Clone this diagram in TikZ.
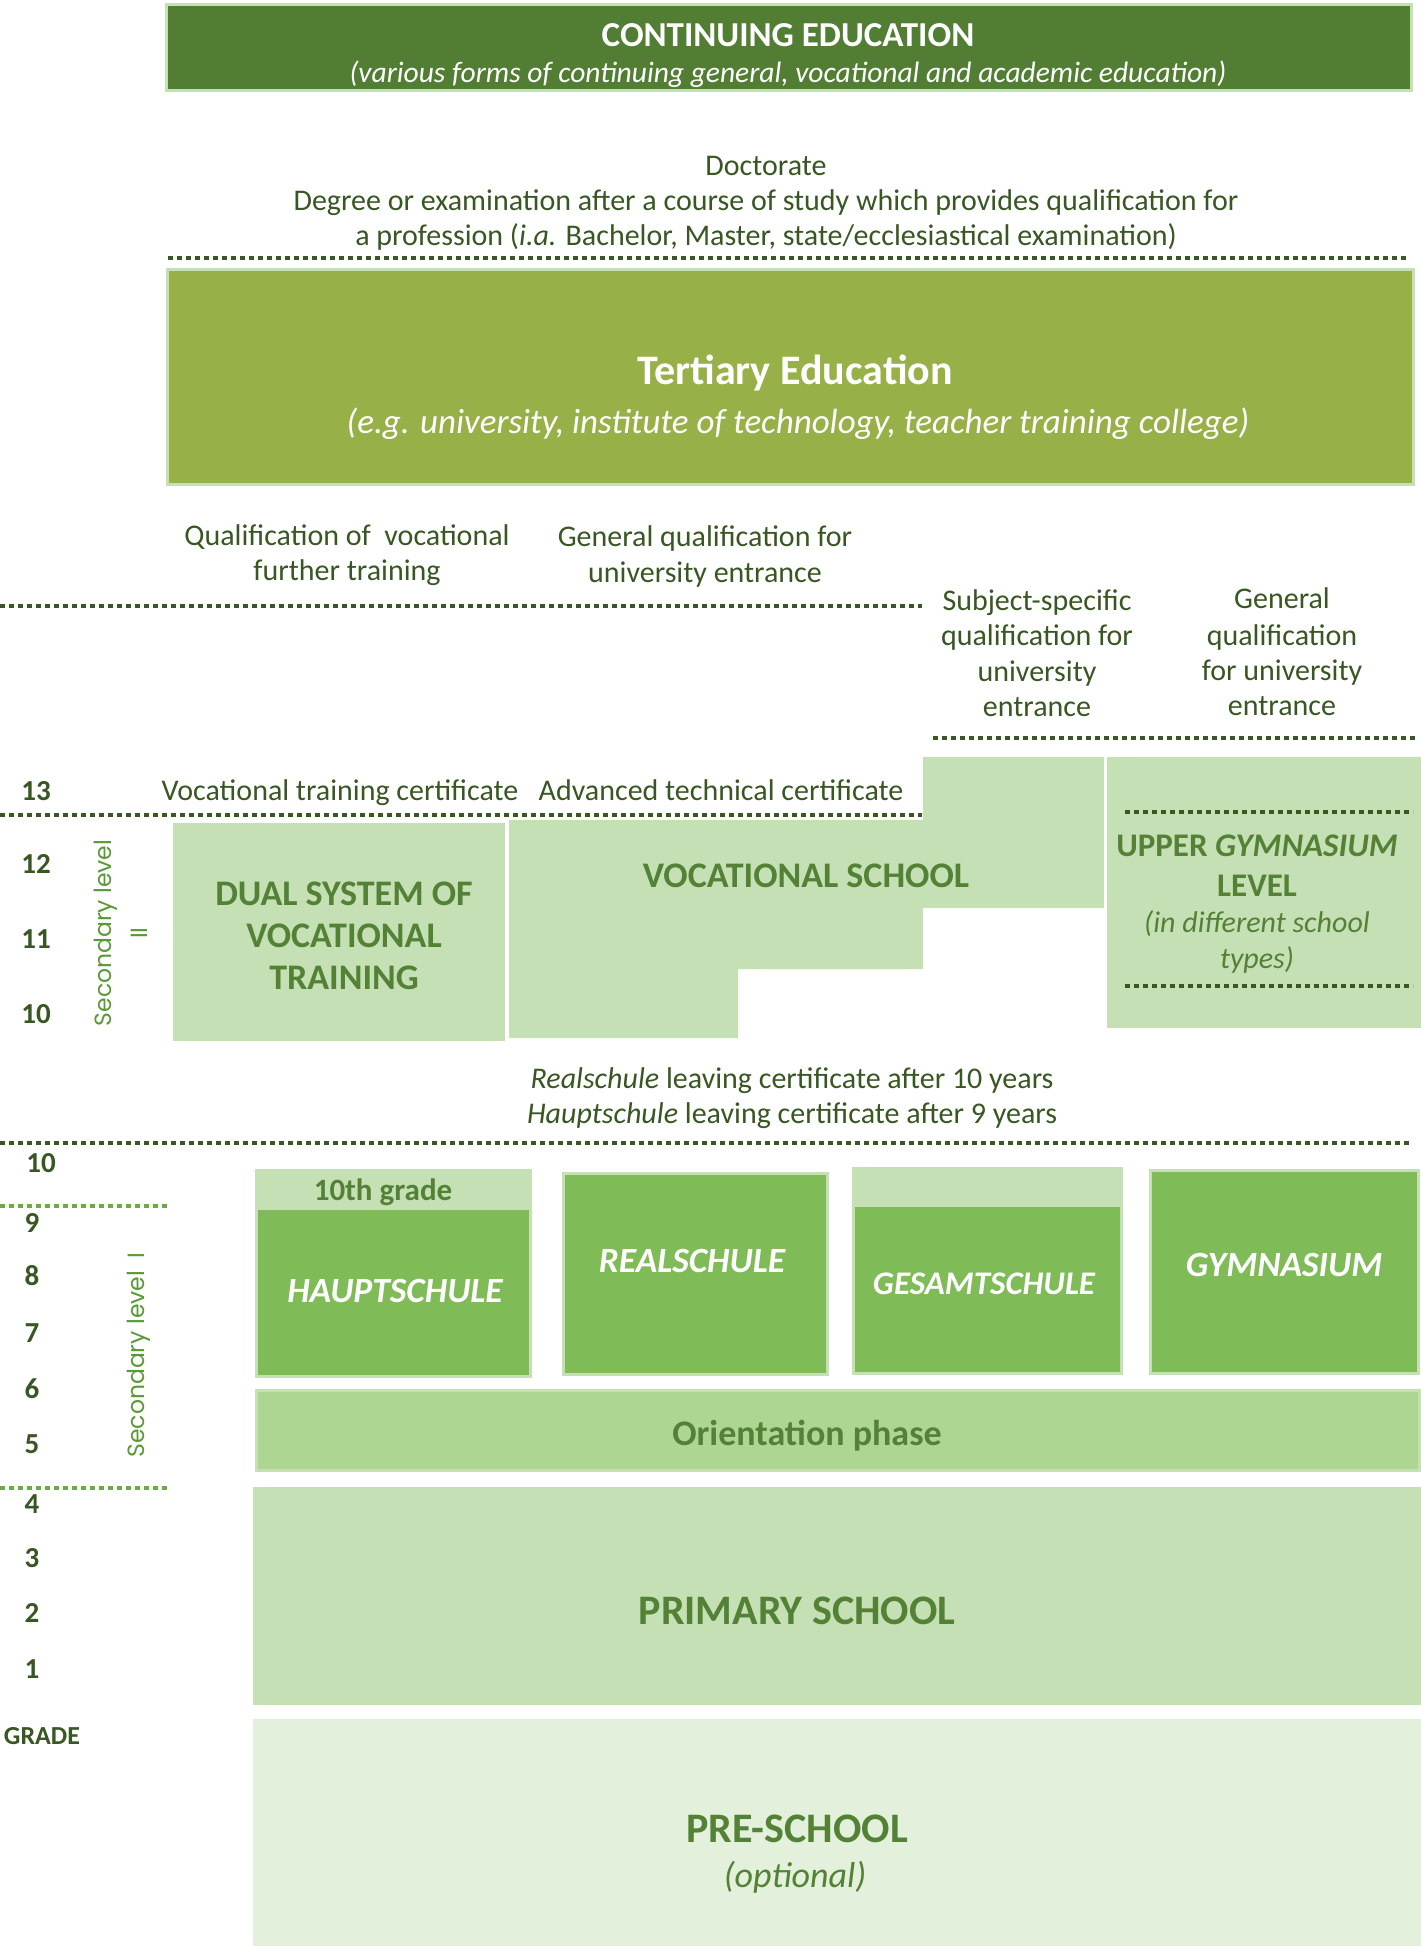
\documentclass[tikz,border=0pt]{standalone}
\usepackage{fontspec}
\setmainfont{Carlito}
\newfontfamily\popfont{Poppins}
\definecolor{dkgreen}{HTML}{385723}
\definecolor{boxtext}{HTML}{538135}
\definecolor{cefill}{HTML}{527E33}
\definecolor{tertfill}{HTML}{97B047}
\definecolor{pale}{HTML}{C6E0B5}
\definecolor{midfill}{HTML}{7FBB57}
\definecolor{orient}{HTML}{ADD693}
\definecolor{prefill}{HTML}{E3F0DB}
\definecolor{seclab}{HTML}{5A9A36}
\definecolor{lightdot}{HTML}{6AAB45}
\begin{document}
\begin{tikzpicture}[x=1pt,y=-1pt,
  dotline/.style={draw=dkgreen,line width=4pt,dash pattern=on 5pt off 4pt},
  dotlight/.style={draw=lightdot,line width=4pt,dash pattern=on 5pt off 4pt},
  lbl/.style={text=dkgreen,font=\fontsize{30}{36}\selectfont,anchor=base,inner sep=0pt},
  num/.style={text=dkgreen,font=\bfseries\fontsize{29}{34}\selectfont,anchor=base,inner sep=0pt},
  btxt/.style={text=boxtext,font=\bfseries\fontsize{36}{42}\selectfont,anchor=base,inner sep=0pt},
  wtxt/.style={text=white,font=\bfseries\itshape\fontsize{35.5}{42}\selectfont,anchor=base,inner sep=0pt},
  seclbl/.style={text=seclab,font=\popfont\fontsize{23.5}{36}\selectfont,align=center,rotate=90,inner sep=0pt}]
\useasboundingbox (0,0) rectangle (1421,1946);
\fill[white] (0,0) rectangle (1421,1946);

% Continuing education
\fill[pale] (165,3) rectangle (1413,92);
\fill[cefill] (168,6) rectangle (1410,89);
\node[anchor=base,inner sep=0pt,text=white,font=\bfseries\fontsize{35}{42}\selectfont] (ce) at (788,46) {CONTINUING EDUCATION};
\node[anchor=base,inner sep=0pt,text=white,font=\itshape\fontsize{29.5}{35}\selectfont] (cesub) at (788,82) {(various forms of continuing general, vocational and academic education)};

% Degrees
\node[lbl] (doc) at (766,175) {Doctorate};
\node[lbl] (deg1) at (766,210) {Degree or examination after a course of study which provides qualification for};
\node[lbl] (deg2) at (766,245) {a profession (\textit{i.a.} Bachelor, Master, state/ecclesiastical examination)};
\draw[dotline] (168,258) -- (1408,258);

% Tertiary
\fill[pale] (166,268) rectangle (1415,486);
\fill[tertfill] (169,271) rectangle (1412,483);
\node[anchor=base,inner sep=0pt,text=white,font=\bfseries\fontsize{42}{50}\selectfont] (tert) at (795,384) {Tertiary Education};
\node[anchor=base,inner sep=0pt,text=white,font=\itshape\fontsize{35}{42}\selectfont] (tertsub) at (798,433) {(e.g. university, institute of technology, teacher training college)};

% Qualifications
\node[lbl] (qv1) at (347,545) {Qualification of\ \ vocational};
\node[lbl] (qv2) at (347,580) {further training};
\node[lbl] (gq1) at (705,546) {General qualification for};
\node[lbl] (gq2) at (705,582) {university entrance};
\draw[dotline] (0,606) -- (922,606);
\node[lbl] (ss1) at (1037,610) {Subject-specific};
\node[lbl] (ss2) at (1037,645) {qualification for};
\node[lbl] (ss3) at (1037,681) {university};
\node[lbl] (ss4) at (1037,716) {entrance};
\node[lbl] (gg1) at (1282,608) {General};
\node[lbl] (gg2) at (1282,645) {qualification};
\node[lbl] (gg3) at (1282,680) {for university};
\node[lbl] (gg4) at (1282,715) {entrance};
\draw[dotline] (933,738) -- (1416,738);

% Secondary II
\node[num] (g13) at (36,800) {13};
\node[num] (g12) at (36,873) {12};
\node[num] (g11) at (36,948) {11};
\node[num] (g10a) at (36,1023) {10};
\node[lbl] (vtc) at (340,800) {Vocational training certificate};
\node[lbl] (atc) at (721,800) {Advanced technical certificate};
\draw[dotline] (0,815) -- (922,815);
\node[seclbl] (sec2) at (121,933) {Secondary level\\II};

\fill[pale] (173,823) rectangle (505,1041);
\node[btxt] (ds1) at (344,905) {DUAL SYSTEM OF};
\node[btxt] (ds2) at (344,947) {VOCATIONAL};
\node[btxt] (ds3) at (344,989) {TRAINING};

\fill[pale] (509,820) -- (923,820) -- (923,757) -- (1104,757) -- (1104,908) -- (923,908) -- (923,969) -- (738,969) -- (738,1038) -- (509,1038) -- cycle;
\node[btxt] (vs) at (806,887) {VOCATIONAL SCHOOL};

\fill[pale] (1107,757) rectangle (1421,1028);
\draw[dotline] (1125,812) -- (1413,812);
\draw[dotline] (1125,986) -- (1413,986);
\node[btxt,font=\bfseries\fontsize{33}{40}\selectfont] (ug1) at (1257,856) {UPPER \textit{GYMNASIUM}};
\node[btxt,font=\bfseries\fontsize{33}{40}\selectfont] (ug2) at (1257,896) {LEVEL};
\node[btxt,font=\itshape\fontsize{30}{36}\selectfont] (ug3) at (1257,932) {(in different school};
\node[btxt,font=\itshape\fontsize{30}{36}\selectfont] (ug4) at (1257,968) {types)};

% Leaving certificates
\node[lbl] (rlc) at (792,1088) {\textit{Realschule} leaving certificate after 10 years};
\node[lbl] (hlc) at (792,1123) {\textit{Hauptschule} leaving certificate after 9 years};
\draw[dotline] (0,1143) -- (1409,1143);

% Secondary I
\node[num] (g10b) at (41,1172) {10};
\draw[dotlight] (0,1206) -- (168,1206);
\node[num] (g9) at (32,1232) {9};
\node[num] (g8) at (32,1285) {8};
\node[num] (g7) at (32,1342) {7};
\node[num] (g6) at (32,1398) {6};
\node[num] (g5) at (32,1453) {5};
\draw[dotlight] (0,1488) -- (168,1488);
\node[num] (g4) at (32,1513) {4};
\node[num] (g3) at (32,1567) {3};
\node[num] (g2) at (32,1622) {2};
\node[num] (g1) at (32,1678) {1};
\node[num,font=\bfseries\fontsize{26}{30}\selectfont] (grade) at (42,1744) {GRADE};
\node[seclbl] (sec1) at (139,1355) {Secondary level\ \ I};

\fill[pale] (255,1169) rectangle (532,1378);
\fill[midfill] (258,1210) rectangle (529,1375);
\node[btxt,font=\bfseries\fontsize{31}{36}\selectfont] (tenth) at (383,1200) {10th grade};
\node[wtxt] (haupt) at (395,1302) {HAUPTSCHULE};

\fill[pale] (562,1172) rectangle (829,1376);
\fill[midfill] (565,1175) rectangle (826,1373);
\node[wtxt] (real) at (692,1272) {REALSCHULE};

\fill[pale] (852,1167) rectangle (1123,1375);
\fill[midfill] (855,1207) rectangle (1120,1372);
\node[wtxt,font=\bfseries\itshape\fontsize{33}{40}\selectfont] (gesamt) at (984,1294) {GESAMTSCHULE};

\fill[pale] (1149,1169) rectangle (1420,1375);
\fill[midfill] (1152,1172) rectangle (1417,1372);
\node[wtxt] (gym) at (1284,1276) {GYMNASIUM};

\fill[pale] (255,1389) rectangle (1421,1472);
\fill[orient] (258,1392) rectangle (1418,1469);
\node[btxt] (ori) at (807,1445) {Orientation phase};

% Primary and pre-school
\fill[pale] (253,1487) rectangle (1421,1705);
\node[btxt,font=\bfseries\fontsize{42}{50}\selectfont] (prim) at (797,1624) {PRIMARY SCHOOL};
\fill[prefill] (253,1719) rectangle (1421,1946);
\node[btxt,font=\bfseries\fontsize{42}{50}\selectfont] (pre) at (797,1842) {PRE-SCHOOL};
\node[btxt,font=\itshape\fontsize{36}{42}\selectfont] (opt) at (795,1887) {(optional)};
\end{tikzpicture}
\end{document}
